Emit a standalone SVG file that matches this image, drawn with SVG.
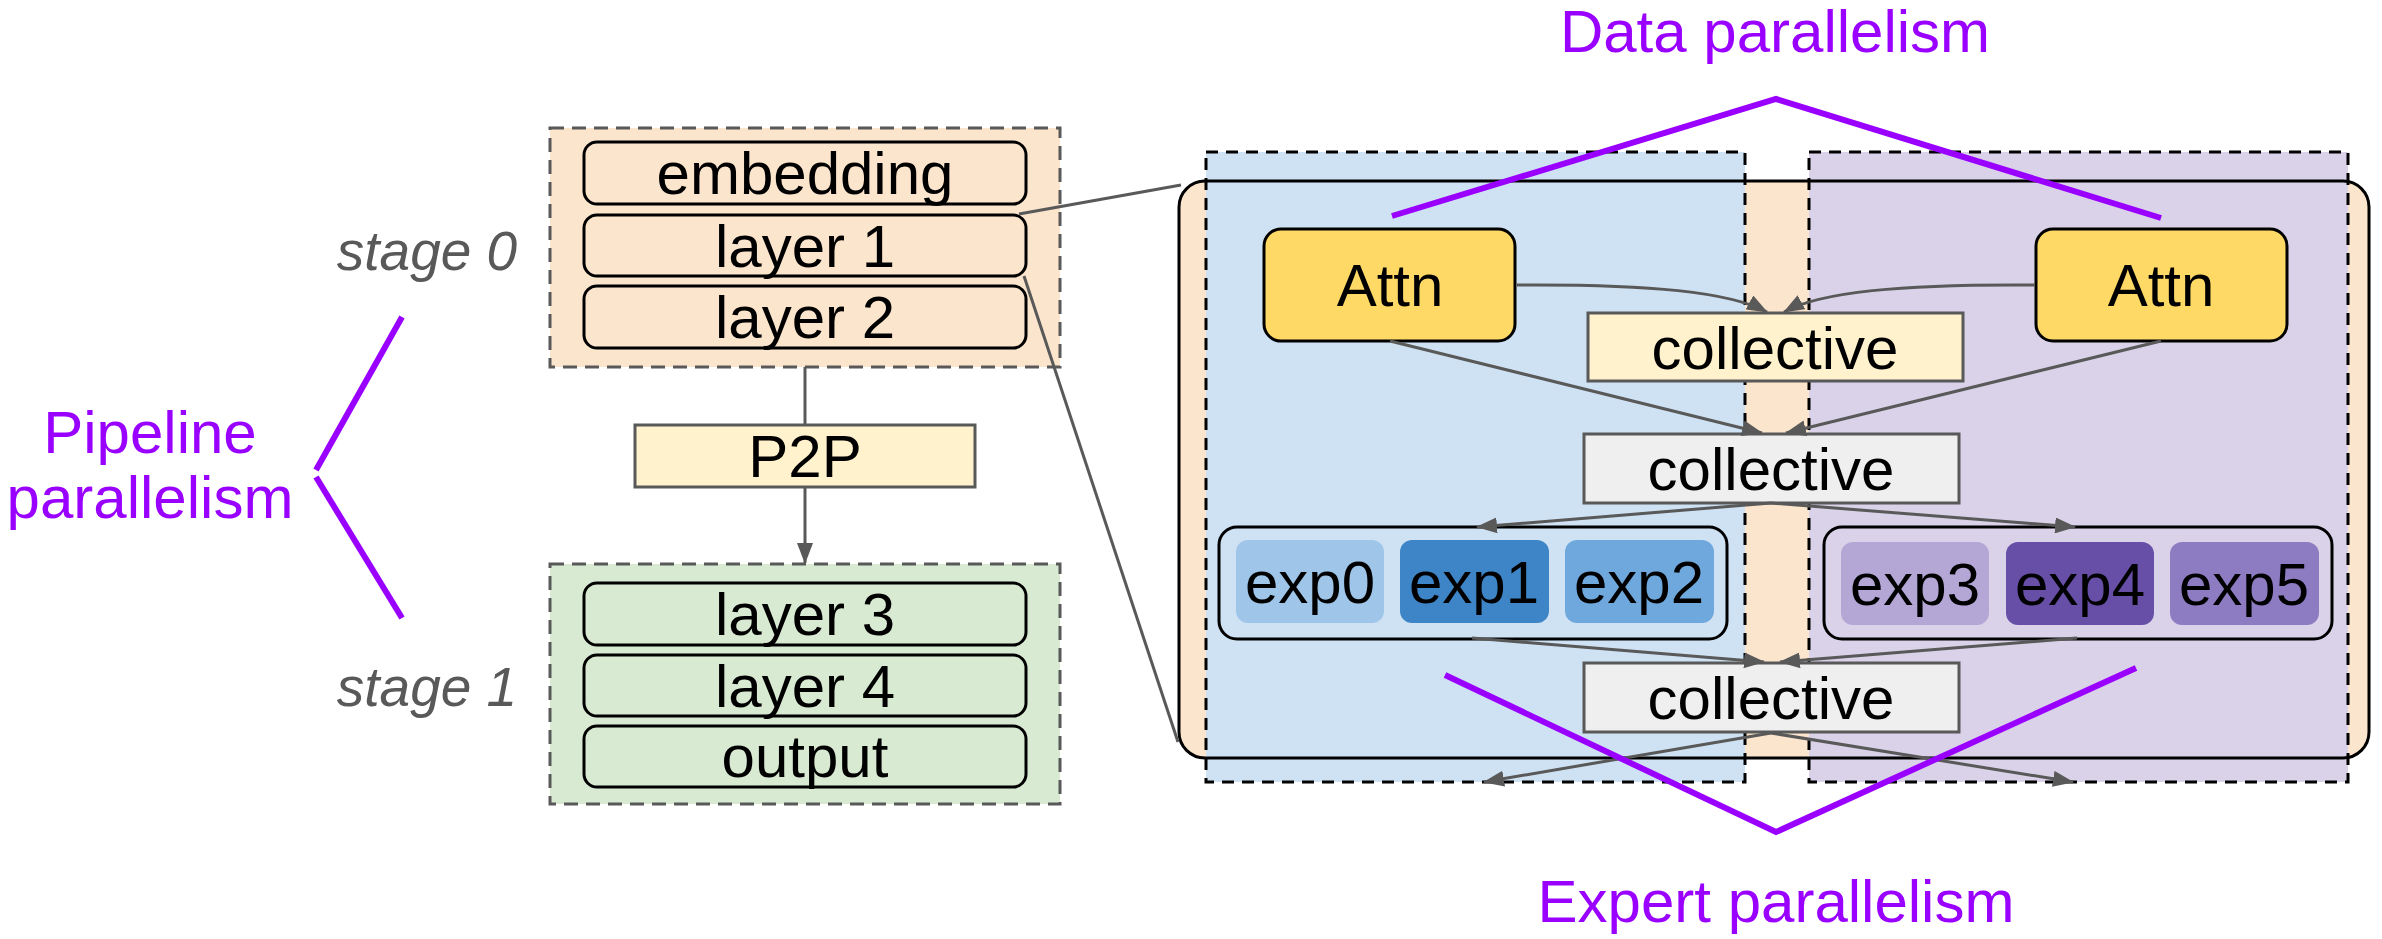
<svg xmlns="http://www.w3.org/2000/svg" width="2382" height="939" viewBox="0 0 2382 939">
<defs>
<style>
text{font-family:"Liberation Sans",Arial,sans-serif;font-size:60px;fill:#000;text-anchor:middle}
.purple{fill:#9900ff}
.stage{fill:#595959;font-style:italic;font-size:55px}
.layer{stroke:#000;stroke-width:3}
.conn{stroke:#595959;stroke-width:3;fill:none}
.plin{stroke:#9900ff;stroke-width:6;fill:none}
.dash{stroke:#000;stroke-width:3;stroke-dasharray:12 8}
.sdash{stroke:#595959;stroke-width:3;stroke-dasharray:14 8}
.coll{stroke:#595959;stroke-width:3}
</style>
<marker id="ah" markerWidth="21" markerHeight="16" refX="20" refY="8" orient="auto" markerUnits="userSpaceOnUse"><path d="M0,0 L21,8 L0,16 z" fill="#595959"/></marker>
</defs>
<rect width="2382" height="939" fill="#fff"/>

<g id="pipeline-label">
<text class="purple" x="150" y="453">Pipeline</text>
<text class="purple" x="150" y="518">parallelism</text>
<path class="plin" d="M402,317 L316,470"/>
<path class="plin" d="M316,477 L402,618"/>
</g>
<g id="stage0-label"><text class="stage" x="427" y="270">stage 0</text></g>
<g id="stage1-label"><text class="stage" x="427" y="706">stage 1</text></g>

<g id="stage0">
<rect x="550" y="128" width="510" height="239" fill="#fce5cd" class="sdash"/>
</g>
<g id="embedding"><rect class="layer" x="584" y="142" width="442" height="62" rx="13" fill="#fce5cd"/><text x="805" y="194">embedding</text></g>
<g id="layer1"><rect class="layer" x="584" y="215" width="442" height="61" rx="13" fill="#fce5cd"/><text x="805" y="267">layer 1</text></g>
<g id="layer2"><rect class="layer" x="584" y="286" width="442" height="62" rx="13" fill="#fce5cd"/><text x="805" y="338">layer 2</text></g>

<g id="p2p"><rect x="635" y="425" width="340" height="62" fill="#fff2cc" class="coll"/><text x="805" y="477">P2P</text></g>

<g id="stage1">
<rect x="550" y="564" width="510" height="240" fill="#d9ead3" class="sdash"/>
</g>
<g id="layer3"><rect class="layer" x="584" y="583" width="442" height="62" rx="13" fill="#d9ead3"/><text x="805" y="635">layer 3</text></g>
<g id="layer4"><rect class="layer" x="584" y="655" width="442" height="61" rx="13" fill="#d9ead3"/><text x="805" y="707">layer 4</text></g>
<g id="output"><rect class="layer" x="584" y="726" width="442" height="61" rx="13" fill="#d9ead3"/><text x="805" y="777">output</text></g>

<g id="moe-layer">
<rect x="1179" y="181" width="1190" height="577" rx="26" fill="#fce5cd"/>
</g>
<g id="dp-group-0"><rect x="1206" y="152" width="539" height="630" fill="#cfe2f3" class="dash"/></g>
<g id="dp-group-1"><rect x="1809" y="152" width="539" height="630" fill="#d9d2e9" class="dash"/></g>
<rect x="1179" y="181" width="1190" height="577" rx="26" fill="none" stroke="#000" stroke-width="3"/>

<g id="data-parallel-label">
<text class="purple" x="1775" y="52">Data parallelism</text>
<path class="plin" d="M1392,216 L1776,99 L2161,218"/>
</g>

<g id="attn0"><rect x="1264" y="229" width="251" height="112" rx="17" fill="#ffd966" stroke="#000" stroke-width="3"/><text x="1390" y="306">Attn</text></g>
<g id="attn1"><rect x="2036" y="229" width="251" height="112" rx="17" fill="#ffd966" stroke="#000" stroke-width="3"/><text x="2161" y="306">Attn</text></g>

<g id="collective-dp"><rect x="1588" y="313" width="375" height="68" fill="#fff2cc" class="coll"/><text x="1775" y="369">collective</text></g>
<g id="collective-a2a-1"><rect x="1584" y="434" width="375" height="69" fill="#efefef" class="coll"/><text x="1771" y="490">collective</text></g>
<g id="collective-a2a-2"><rect x="1584" y="663" width="375" height="69" fill="#efefef" class="coll"/><text x="1771" y="719">collective</text></g>

<g id="experts-0">
<rect x="1219" y="527" width="508" height="112" rx="18" fill="#cfe2f3" stroke="#000" stroke-width="3"/>
<rect x="1236" y="540" width="148" height="83" rx="12" fill="#9fc5e8"/><text x="1310" y="603">exp0</text>
<rect x="1400" y="540" width="149" height="83" rx="12" fill="#3d85c6"/><text x="1474" y="603">exp1</text>
<rect x="1565" y="540" width="149" height="83" rx="12" fill="#6fa8dc"/><text x="1639" y="603">exp2</text>
</g>
<g id="experts-1">
<rect x="1824" y="527" width="508" height="112" rx="18" fill="#d9d2e9" stroke="#000" stroke-width="3"/>
<rect x="1841" y="542" width="148" height="83" rx="12" fill="#b4a7d6"/><text x="1915" y="605">exp3</text>
<rect x="2006" y="542" width="148" height="83" rx="12" fill="#674ea7"/><text x="2080" y="605">exp4</text>
<rect x="2170" y="542" width="149" height="83" rx="12" fill="#8e7cc3"/><text x="2244" y="605">exp5</text>
</g>

<g id="connectors">
<path class="conn" d="M1019,214 L1181,185"/>
<path class="conn" d="M1024,276 L1178,742"/>
<path class="conn" d="M805,367 L805,425"/>
<path class="conn" d="M805,487 L805,563" marker-end="url(#ah)"/>
<path class="conn" d="M1517,285 C1650,284 1730,292 1767,312" marker-end="url(#ah)"/>
<path class="conn" d="M2035,285 C1900,284 1820,292 1784,312" marker-end="url(#ah)"/>
<path class="conn" d="M1390,341 L1762,433" marker-end="url(#ah)"/>
<path class="conn" d="M2161,341 L1786,433" marker-end="url(#ah)"/>
<path class="conn" d="M1771,503 L1477,527" marker-end="url(#ah)"/>
<path class="conn" d="M1771,503 L2075,527" marker-end="url(#ah)"/>
<path class="conn" d="M1472,638 L1764,662" marker-end="url(#ah)"/>
<path class="conn" d="M2077,638 L1780,662" marker-end="url(#ah)"/>
<path class="conn" d="M1771,733 L1484,782" marker-end="url(#ah)"/>
<path class="conn" d="M1771,733 L2073,782" marker-end="url(#ah)"/>
</g>

<g id="expert-parallel-label">
<path class="plin" d="M1445,675 L1776,832 L2136,668"/>
<text class="purple" x="1776" y="922">Expert parallelism</text>
</g>
</svg>
